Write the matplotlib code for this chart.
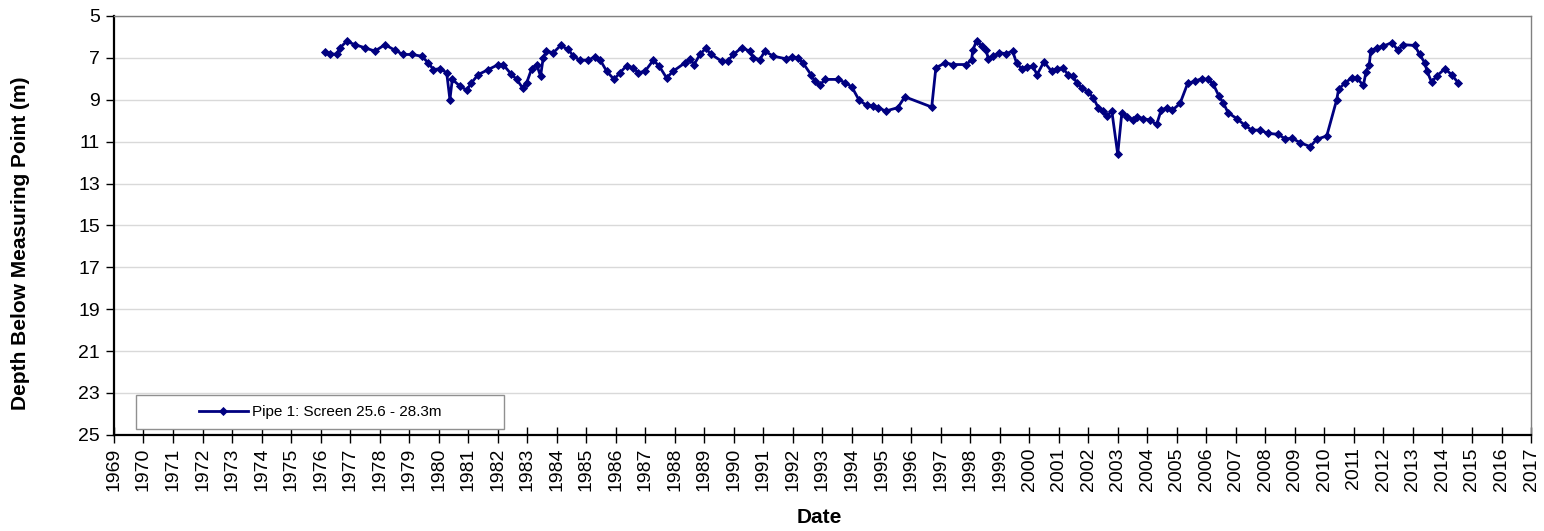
import matplotlib
matplotlib.use('Agg')
import matplotlib.pyplot as plt
from matplotlib.patches import Rectangle

plt.rcParams['font.family'] = ['Liberation Sans', 'DejaVu Sans']
plt.rcParams['font.size'] = 14

# Pipe 1 groundwater depth readings (decimal year, depth below measuring point in m)
years = [
    1976.15, 1976.32, 1976.55, 1976.66, 1976.88, 1977.16, 1977.50, 1977.84, 1978.18, 1978.52,
    1978.80, 1979.08, 1979.42, 1979.65, 1979.82, 1980.04, 1980.27, 1980.38, 1980.46, 1980.72,
    1980.95, 1981.11, 1981.34, 1981.68, 1982.02, 1982.18, 1982.44, 1982.64, 1982.84, 1982.98,
    1983.15, 1983.32, 1983.45, 1983.54, 1983.65, 1983.88, 1984.13, 1984.39, 1984.56, 1984.78,
    1985.07, 1985.29, 1985.46, 1985.69, 1985.94, 1986.14, 1986.37, 1986.59, 1986.76, 1986.99,
    1987.27, 1987.47, 1987.72, 1987.94, 1988.34, 1988.51, 1988.65, 1988.85, 1989.04, 1989.24,
    1989.58, 1989.79, 1989.98, 1990.26, 1990.54, 1990.65, 1990.88, 1991.05, 1991.33, 1991.78,
    1991.97, 1992.18, 1992.35, 1992.61, 1992.74, 1992.91, 1993.08, 1993.53, 1993.76, 1993.99,
    1994.24, 1994.50, 1994.72, 1994.89, 1995.14, 1995.55, 1995.79, 1996.70, 1996.84, 1997.15,
    1997.41, 1997.86, 1998.05, 1998.09, 1998.22, 1998.39, 1998.54, 1998.62, 1998.79, 1998.99,
    1999.22, 1999.44, 1999.58, 1999.75, 1999.92, 2000.12, 2000.27, 2000.50, 2000.76, 2000.93,
    2001.13, 2001.32, 2001.49, 2001.61, 2001.78, 2002.00, 2002.17, 2002.34, 2002.51, 2002.63,
    2002.80, 2003.00, 2003.14, 2003.31, 2003.53, 2003.64, 2003.87, 2004.09, 2004.32, 2004.47,
    2004.66, 2004.85, 2005.11, 2005.37, 2005.62, 2005.84, 2006.07, 2006.24, 2006.43, 2006.57,
    2006.74, 2007.03, 2007.31, 2007.54, 2007.82, 2008.10, 2008.44, 2008.66, 2008.92, 2009.18,
    2009.52, 2009.74, 2010.08, 2010.42, 2010.48, 2010.70, 2010.93, 2011.10, 2011.32, 2011.41,
    2011.52, 2011.57, 2011.77, 2011.99, 2012.28, 2012.50, 2012.67, 2013.06, 2013.23, 2013.40,
    2013.48, 2013.63, 2013.80, 2014.08, 2014.31, 2014.53,
]
depths = [
    6.70, 6.80, 6.84, 6.52, 6.21, 6.37, 6.52, 6.68, 6.37, 6.64,
    6.84, 6.84, 6.92, 7.24, 7.56, 7.52, 7.71, 8.99, 8.03, 8.35,
    8.54, 8.19, 7.80, 7.56, 7.32, 7.32, 7.75, 8.03, 8.43, 8.19,
    7.52, 7.32, 7.88, 7.00, 6.68, 6.76, 6.41, 6.60, 6.92, 7.11,
    7.11, 6.95, 7.08, 7.64, 8.03, 7.71, 7.37, 7.48, 7.71, 7.64,
    7.11, 7.40, 7.96, 7.64, 7.24, 7.05, 7.32, 6.84, 6.55, 6.84,
    7.16, 7.16, 6.84, 6.52, 6.68, 7.00, 7.08, 6.68, 6.92, 7.05,
    6.95, 7.00, 7.27, 7.80, 8.11, 8.32, 8.03, 8.03, 8.19, 8.38,
    9.02, 9.27, 9.30, 9.38, 9.54, 9.38, 8.86, 9.35, 7.48, 7.24,
    7.32, 7.32, 7.11, 6.64, 6.18, 6.44, 6.64, 7.05, 6.92, 6.76,
    6.80, 6.68, 7.27, 7.52, 7.43, 7.40, 7.80, 7.19, 7.64, 7.52,
    7.48, 7.80, 7.88, 8.19, 8.43, 8.64, 8.90, 9.38, 9.54, 9.78,
    9.54, 11.60, 9.62, 9.81, 9.97, 9.81, 9.90, 9.97, 10.18, 9.50,
    9.38, 9.50, 9.18, 8.22, 8.11, 8.00, 8.03, 8.27, 8.83, 9.14,
    9.62, 9.90, 10.22, 10.45, 10.45, 10.61, 10.65, 10.86, 10.85, 11.05,
    11.24, 10.89, 10.73, 8.99, 8.51, 8.19, 7.96, 7.96, 8.32, 7.68,
    7.32, 6.68, 6.52, 6.44, 6.28, 6.64, 6.37, 6.41, 6.84, 7.24,
    7.64, 8.16, 7.88, 7.52, 7.80, 8.19,
]
series_label = 'Pipe 1: Screen 25.6 - 28.3m'
year_ticks = list(range(1969, 2018))
depth_ticks = list(range(5, 26, 2))

fig = plt.figure(figsize=(15.44, 5.31), dpi=100)
ax = fig.add_axes([0.0738, 0.181, 0.9178, 0.789])

ax.plot(years, depths, color='#000080', linewidth=2.0, marker='D', markersize=4.2,
        markeredgewidth=0.6, label=series_label, zorder=3)

ax.set_xlim(1969, 2017)
ax.set_ylim(25, 5)
ax.set_xticks(year_ticks)
ax.set_xticklabels([str(y) for y in year_ticks], rotation=90)
ax.set_yticks(depth_ticks)

ax.grid(axis='y', color='#d9d9d9', linewidth=1.0)
ax.set_axisbelow(True)

for side in ['top', 'right']:
    ax.spines[side].set_color('#808080')
    ax.spines[side].set_linewidth(1.0)
for side in ['left', 'bottom']:
    ax.spines[side].set_color('black')
    ax.spines[side].set_linewidth(1.6)

ax.tick_params(axis='y', direction='out', length=6, width=1, labelsize=14, pad=4)
ax.tick_params(axis='x', direction='inout', length=12, width=1, labelsize=14, pad=3)

ax.set_xlabel('Date', fontweight='bold', fontsize=15, va='center')
ax.xaxis.set_label_coords(0.498, -0.196)
ax.set_ylabel('Depth Below Measuring Point (m)', fontweight='bold', fontsize=15, va='center')
ax.yaxis.set_label_coords(-0.066, 0.458)

# legend box drawn like the spreadsheet one, entry centred inside
ax.add_patch(Rectangle((0.0155, 0.014), 0.26, 0.081, transform=ax.transAxes,
                       facecolor='white', edgecolor='#909090', linewidth=1.0, zorder=4))
leg = ax.legend(loc='center', bbox_to_anchor=(0.1455, 0.0545), frameon=False,
                fontsize=11, handlelength=3.2, handletextpad=0.3, borderaxespad=0)
leg.set_zorder(5)

plt.savefig('out.png', dpi=100)
